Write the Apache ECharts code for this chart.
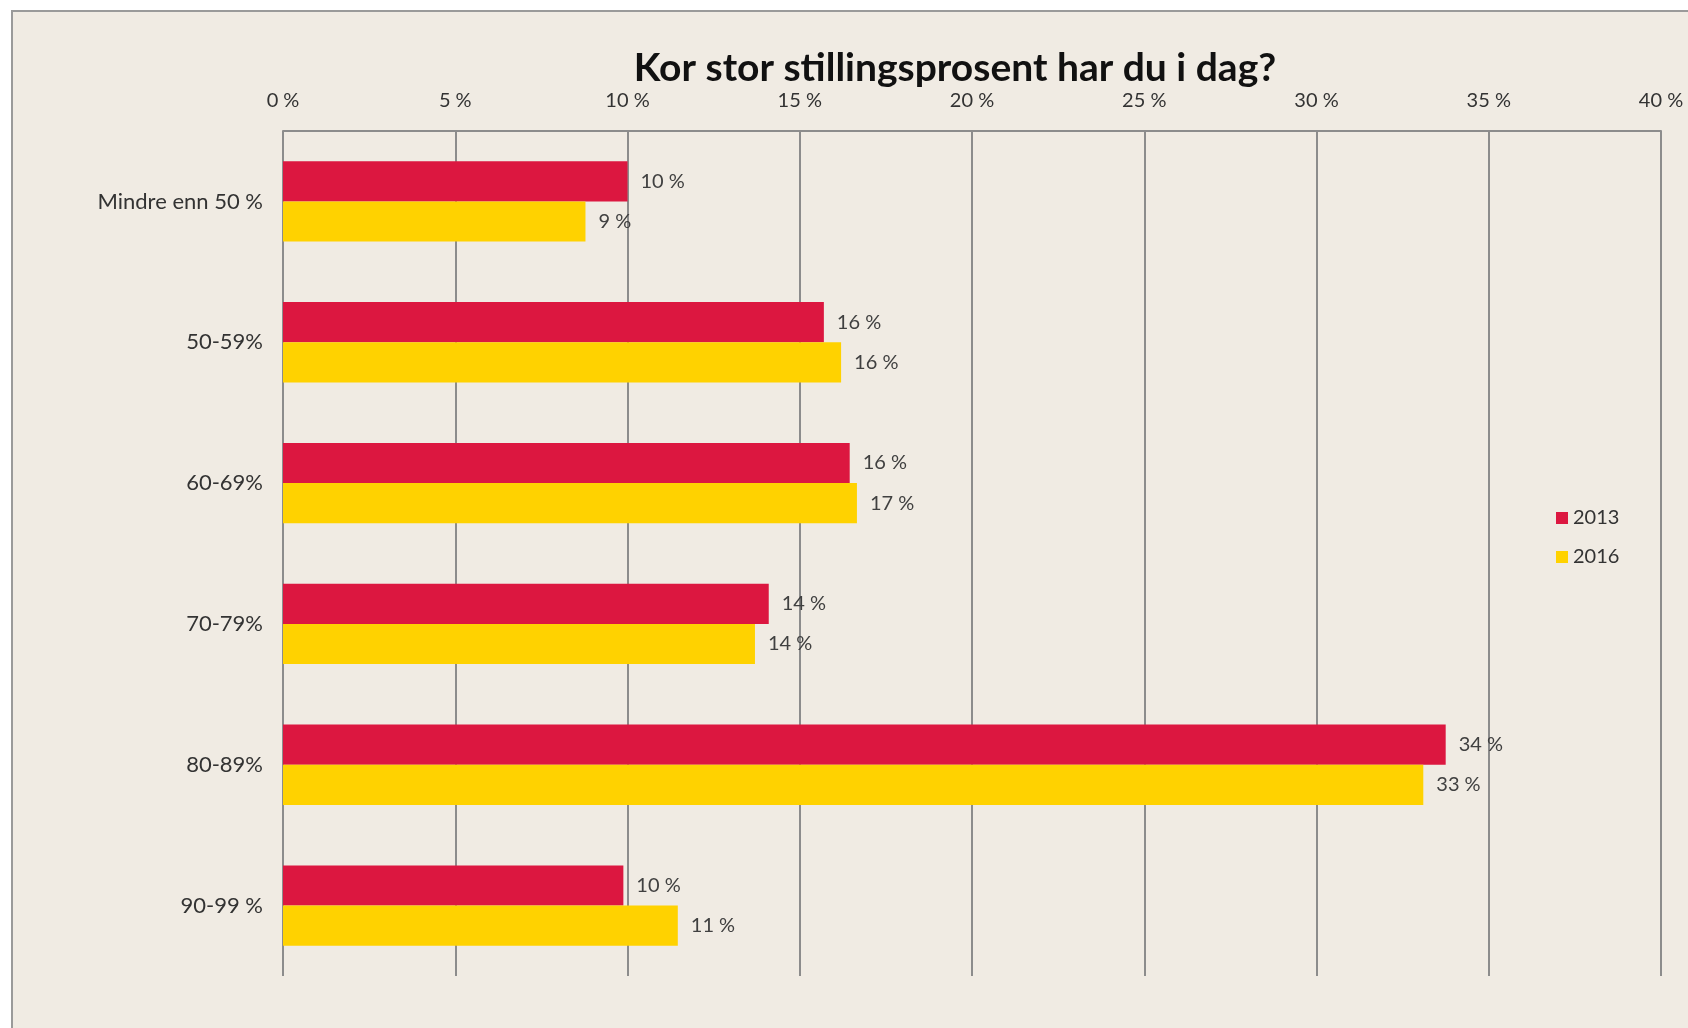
<!DOCTYPE html>
<html><head><meta charset="utf-8">
<script src="https://cdn.jsdelivr.net/npm/echarts@6/dist/echarts.min.js"></script>
<style>html,body{margin:0;padding:0;background:#fff;}#c{width:1688px;height:1028px;}</style>
</head><body><div id="c"></div>
<script>
const title = 'Kor stor stillingsprosent har du i dag?';
const categories = ['Mindre enn 50 %', '50-59%', '60-69%', '70-79%', '80-89%', '90-99 %'];
const seriesNames = ['2013', '2016'];
const values2013 = [10.0, 15.7, 16.45, 14.1, 33.75, 9.88];
const values2016 = [8.78, 16.2, 16.66, 13.7, 33.1, 11.46];
const xTicks = [0, 5, 10, 15, 20, 25, 30, 35, 40];

const font = 'Lato, "Open Sans", sans-serif';
const chart = echarts.init(document.getElementById('c'));
const labelCfg = {
  show: true, position: 'right', distance: 13,
  formatter: p => Math.round(p.value) + ' %',
  color: '#404040', fontFamily: font, fontSize: 20
};
chart.setOption({
  animation: false,
  backgroundColor: 'transparent',
  graphic: [{
    type: 'rect', z: -100, silent: true,
    shape: { x: 12, y: 11, width: 1720, height: 1100 },
    style: { fill: '#F0EBE3', stroke: '#9a9a9a', lineWidth: 2 }
  }],
  title: {
    text: title, left: 950, top: 44, textAlign: 'center',
    textStyle: { fontFamily: font, fontWeight: 'bold', fontSize: 39, color: '#111' }
  },
  legend: {
    orient: 'vertical', left: 1551, top: 503,
    icon: 'rect', itemWidth: 12, itemHeight: 12, itemGap: 19,
    textStyle: { fontFamily: font, fontSize: 20, color: '#333' },
    data: seriesNames
  },
  grid: { left: 283, right: 27, top: 131, bottom: 52 },
  xAxis: {
    type: 'value', position: 'top', min: 0, max: 40, interval: 5,
    axisLine: { show: true, lineStyle: { color: '#8c8c8c', width: 2 } },
    axisTick: { show: false },
    splitLine: { show: true, lineStyle: { color: '#8c8c8c', width: 2 } },
    axisLabel: {
      margin: 20, color: '#333', fontFamily: font, fontSize: 20,
      formatter: v => (xTicks.includes(v) ? v + ' %' : '')
    }
  },
  yAxis: {
    type: 'category', data: categories, inverse: true,
    axisLine: { show: false }, axisTick: { show: false },
    axisLabel: { margin: 20, color: '#333', fontFamily: font, fontSize: 22 }
  },
  series: [
    { name: seriesNames[0], type: 'bar', data: values2013, barGap: '0%', barCategoryGap: '43%',
      itemStyle: { color: '#DC1740' }, label: labelCfg },
    { name: seriesNames[1], type: 'bar', data: values2016,
      itemStyle: { color: '#FFD200' }, label: labelCfg }
  ]
});
</script></body></html>
